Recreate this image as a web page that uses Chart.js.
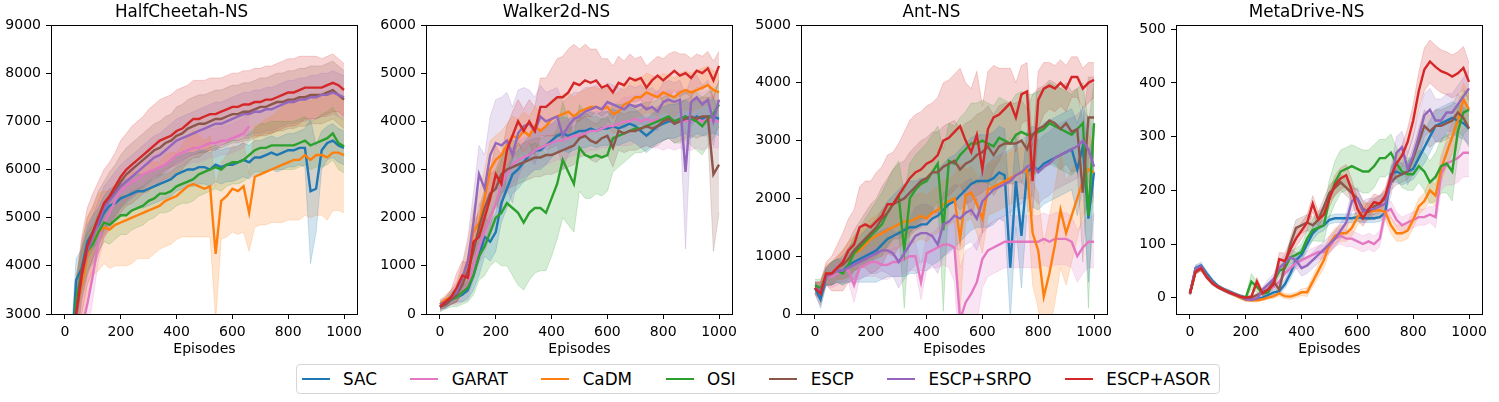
<!DOCTYPE html>
<html>
<head>
<meta charset="utf-8">
<script src="https://cdn.jsdelivr.net/npm/chart.js@4.4.0/dist/chart.umd.min.js"></script>
<style>
  body { margin: 0; background: #fff; width: 1499px; height: 402px; overflow: hidden; position: relative; font-family: "DejaVu Sans", sans-serif; }
  canvas { position: absolute; top: 0; }
  #legend { position: absolute; left: 296px; top: 364px; width: 924px; height: 30px; box-sizing: border-box;
            border: 1px solid #d6d6d6; border-radius: 4px; display: flex; align-items: center; padding-left: 4.7px;
            font-size: 16.8px; color: #000; white-space: nowrap; }
  .item { display: flex; align-items: center; margin-right: 33.5px; }
  .item:last-child { margin-right: 0; }
  .swatch { width: 28px; height: 2.2px; margin-right: 13.4px; }
</style>
</head>
<body>
<canvas id="chart0" width="367" height="362" style="left:0px"></canvas>
<canvas id="chart1" width="367" height="362" style="left:375px"></canvas>
<canvas id="chart2" width="367" height="362" style="left:750px"></canvas>
<canvas id="chart3" width="367" height="362" style="left:1125px"></canvas>
<div id="legend"></div>
<script>
const episodes = [0,20,40,60,80,100,120,140,160,180,200,220,240,260,280,300,320,340,360,380,400,420,440,460,480,500,520,540,560,580,600,620,640,660,680,700,720,740,760,780,800,820,840,860,880,900,920,940,960,980,1000];

const seriesNames = ["SAC", "GARAT", "CaDM", "OSI", "ESCP", "ESCP+SRPO", "ESCP+ASOR"];
const seriesColors = ["#1f77b4", "#e377c2", "#ff7f0e", "#2ca02c", "#8c564b", "#9467bd", "#d62728"];

// HalfCheetah-NS
const hcSac = [-200,1800,3700,3950,4500,4700,4850,5100,5250,5300,5400,5450,5500,5550,5550,5600,5650,5700,5750,5800,5900,5950,6000,6000,6050,6050,6000,6100,6050,6100,6100,6150,6200,6150,6250,6250,6300,6350,6300,6350,6400,6400,6450,6450,5550,5600,6400,6550,6600,6500,6450];
const hcSacStd = [300,500,450,400,350,350,350,350,350,350,350,350,350,350,350,350,350,350,350,350,350,350,350,350,350,350,350,350,350,350,350,350,350,350,350,350,350,350,350,350,350,350,350,400,1500,900,400,350,350,350,350];
const hcGarat = [-500,500,1800,2700,3200,3800,4500,4900,5100,5350,5550,5650,5750,5800,5900,5950,6000,6050,6100,6200,6300,6350,6400,6450,6450,6500,6550,6550,6600,6600,6650,6700,6750,6900,null,null,null,null,null,null,null,null,null,null,null,null,null,null,null,null,null];
const hcGaratStd = [300,400,500,600,600,500,400,350,300,300,300,300,300,300,300,300,300,300,300,300,300,300,300,300,300,300,300,300,300,300,300,300,300,300,null,null,null,null,null,null,null,null,null,null,null,null,null,null,null,null,null];
const hcCadm = [-300,1500,3000,3600,4200,4500,4700,4800,4750,4850,4900,4950,5000,5050,5100,5150,5200,5250,5350,5400,5450,5550,5650,5700,5650,5600,5650,4250,5350,5450,5600,5550,5650,5100,5850,5900,5950,6000,6050,6100,6150,6200,6200,6300,6200,6300,6300,6250,6350,6350,6300];
const hcCadmStd = [300,600,700,800,800,700,800,750,800,850,900,950,950,900,950,1000,950,900,950,950,900,950,1050,1100,1050,1000,1050,1400,800,850,900,900,950,800,1050,1050,1100,1100,1150,1200,1200,1250,1250,1250,1200,1250,1250,1300,1200,1200,1200];
const hcOsi = [-300,1500,3300,3900,4300,4450,4700,4900,4850,4950,5050,5050,5150,5200,5250,5350,5400,5500,5500,5550,5650,5700,5750,5800,5900,5950,6000,6050,6000,6100,6150,6150,6200,6300,6400,6450,6450,6500,6500,6500,6500,6500,6550,6600,6500,6550,6600,6650,6750,6550,6480];
const hcOsiStd = [300,500,500,450,400,400,400,400,400,400,400,400,400,400,400,400,400,400,400,400,400,400,450,450,450,450,450,450,450,450,450,450,450,450,450,500,500,500,500,500,500,500,500,500,500,500,550,550,550,550,550];
const hcEscp = [-300,1200,3000,3900,4400,4700,5000,5200,5400,5550,5750,5900,6000,6100,6200,6300,6400,6450,6550,6600,6700,6750,6850,6900,6950,6950,7000,7050,7050,7100,7150,7150,7200,7200,7250,7300,7300,7350,7400,7400,7450,7450,7500,7500,7550,7550,7550,7600,7650,7550,7450];
const hcEscpStd = [300,500,600,600,600,550,550,550,550,550,550,550,550,550,550,550,550,550,550,550,600,600,600,600,600,600,600,600,600,600,600,600,600,600,600,600,600,600,600,600,600,600,600,600,600,600,600,600,600,600,600];
const hcSrpo = [-300,1200,2900,3800,4300,4600,4900,5200,5350,5500,5650,5750,5850,5950,6050,6150,6250,6300,6400,6500,6600,6650,6700,6750,6800,6850,6900,6950,6950,7000,7050,7100,7150,7150,7200,7200,7250,7250,7300,7350,7400,7400,7450,7450,7500,7500,7550,7550,7600,7550,7500];
const hcSrpoStd = [300,500,500,500,450,450,450,450,450,450,450,450,450,450,450,450,450,450,450,450,450,450,450,450,450,450,450,450,450,450,450,450,450,450,450,450,450,450,450,450,450,450,450,450,450,450,450,450,450,450,450];
const hcAsor = [-300,1200,3000,3800,4400,4700,5000,5300,5450,5650,5850,6000,6100,6200,6300,6400,6500,6600,6650,6700,6800,6850,6950,7050,7050,7100,7150,7150,7200,7250,7300,7300,7350,7350,7400,7400,7450,7450,7500,7550,7600,7600,7650,7700,7700,7700,7700,7750,7800,7750,7650];
const hcAsorStd = [300,500,700,800,800,800,750,700,700,700,750,750,800,800,800,850,850,850,850,850,850,850,800,800,800,750,750,750,700,700,700,700,700,700,700,700,700,700,700,700,700,700,700,650,650,650,600,600,600,550,550];

// Walker2d-NS
const wkSac = [150,200,300,350,400,500,800,1200,1600,1500,1700,2300,2600,2900,3000,3150,3300,3400,3400,3500,3600,3700,3750,3700,3750,3800,3800,3850,3800,3850,3850,3900,3850,3900,3950,3900,3800,3700,3800,3900,3950,4000,4000,4050,4100,4000,4100,4050,4100,4100,4050];
const wkSacStd = [50,80,100,100,150,200,300,400,400,400,400,400,400,400,400,400,400,400,400,400,350,350,350,350,350,350,350,350,350,350,350,350,350,350,350,350,350,350,350,350,350,350,350,350,350,350,350,350,350,350,350];
const wkGarat = [150,200,300,350,450,600,1000,1400,1700,2000,2300,2700,2900,3100,3200,3250,3300,3400,3450,3500,3550,3600,3600,3650,3700,3700,3750,3800,3800,3850,3900,3900,3950,4000,4000,4050,4000,4050,4000,4050,4000,4050,4000,4050,4000,4000,4050,4000,4050,4000,4000];
const wkGaratStd = [50,80,100,150,200,250,300,350,400,400,400,400,400,400,400,400,400,400,400,400,400,400,400,400,400,400,400,400,400,400,450,450,450,500,500,500,550,550,550,600,600,600,600,600,600,600,600,600,600,550,550];
const wkCadm = [200,300,350,450,700,1100,1700,1900,2400,3000,3200,3300,3500,3700,3650,3800,3700,3900,3800,3900,4050,4100,4150,4200,4100,4200,4250,4300,4300,4250,4300,4150,4200,4350,4400,4500,4500,4600,4550,4500,4600,4550,4500,4600,4650,4600,4650,4700,4750,4650,4600];
const wkCadmStd = [80,100,150,200,300,400,500,600,600,600,500,500,450,400,400,400,400,400,400,400,400,400,400,400,400,400,400,400,400,400,400,400,400,400,400,400,400,400,400,400,400,400,400,400,400,400,400,400,400,400,400];
const wkOsi = [150,200,300,350,450,550,800,1200,1400,1700,2000,2100,2300,2200,2100,1900,2100,2200,2200,2100,2400,2700,3200,2950,2700,3450,3300,3250,3300,3250,3300,3650,3700,3750,3800,3850,3850,3900,3950,4000,4050,4100,4000,4050,4100,4050,4000,3900,4050,4150,4350];
const wkOsiStd = [100,100,150,200,250,300,400,500,600,700,900,1100,1300,1400,1500,1400,1400,1350,1300,1200,1200,1150,1200,1100,1000,900,900,850,800,800,750,700,650,600,550,500,500,500,450,450,450,450,450,500,500,550,600,600,550,500,450];
const wkEscp = [150,200,300,400,600,900,1300,1800,2200,2500,2600,2900,3000,3050,3100,3150,3200,3250,3250,3300,3300,3350,3400,3450,3500,3650,3700,3600,3550,3650,3700,3450,3800,3750,3800,3800,3850,3900,3850,3900,4000,4050,3950,4000,4050,4100,4050,4100,4100,2900,3100];
const wkEscpStd = [50,80,100,150,200,300,400,400,400,400,400,400,400,400,400,400,400,400,400,400,400,400,400,400,400,400,400,400,400,400,400,400,400,400,400,400,400,400,400,400,400,400,400,400,400,400,400,400,400,1600,1000];
const wkSrpo = [200,250,350,450,750,1100,1900,2900,2600,3300,3550,3500,3600,3300,3750,3900,3950,3800,4100,4000,4050,4100,3700,3900,4050,4100,4200,4250,4300,4250,4400,4350,4300,4250,4350,4300,4350,4250,4300,4200,4400,4450,4400,4450,2950,4400,4500,4350,4450,4000,4450];
const wkSrpoStd = [100,100,150,200,300,500,600,600,700,800,900,1000,1000,1000,900,800,700,700,650,600,600,600,700,600,550,500,500,450,450,400,400,400,400,400,400,400,400,400,400,400,400,400,400,400,1600,500,450,400,400,500,400];
const wkAsor = [150,250,350,550,800,750,1500,1600,2000,2400,2900,2700,3400,3700,4000,3800,4000,3800,4300,4300,4400,4500,4500,4600,4800,4750,4850,4800,4850,4700,4750,4600,4800,4750,4900,4850,4900,4700,4850,4950,4850,4950,5050,4950,5000,4900,5050,5000,5100,4850,5150];
const wkAsorStd = [100,100,150,300,300,300,400,500,500,600,600,600,500,500,450,450,450,500,600,600,700,800,850,900,800,750,750,700,650,600,550,550,550,500,500,450,450,450,400,400,450,450,400,450,400,400,350,350,350,400,300];

// Ant-NS
const antSac = [450,250,650,700,750,750,850,900,950,1000,1050,1100,1200,1300,1350,1400,1450,1500,1500,1550,1550,1650,1700,1800,1900,1950,2050,2150,2250,2300,2300,2300,2350,2450,2400,800,2300,1350,2450,2550,2500,2600,2650,2700,2750,2800,2850,2500,2900,1650,2450];
const antSacStd = [100,150,150,200,200,250,300,350,400,450,500,550,600,650,700,750,800,800,800,800,800,800,800,800,800,800,800,800,800,800,800,800,800,800,800,900,800,900,700,700,700,700,700,700,700,700,700,800,700,1100,700];
const antGarat = [450,400,650,650,700,750,750,500,800,850,900,900,850,850,900,900,950,1000,1000,550,1050,1100,1150,1200,1200,1150,-100,200,350,550,950,1100,1150,1200,1250,1250,1250,1250,1250,1250,1250,1300,1250,1300,1300,1300,1250,1000,1150,1250,1250];
const antGaratStd = [100,150,150,200,200,200,200,300,200,200,250,250,250,250,250,250,250,250,250,300,300,300,350,350,400,600,900,900,800,700,500,450,450,450,450,450,450,450,450,450,450,450,450,450,450,450,450,450,450,450,450];
const antCadm = [450,400,700,700,800,850,950,1050,1100,1200,1300,1350,1400,1450,1500,1550,1600,1600,1650,1700,1650,1750,1800,1900,1950,2000,1300,2050,2100,1900,1650,2150,2200,2250,2300,2350,2400,2450,2500,1400,1100,300,700,1200,1800,1400,1700,2000,2300,2500,2450];
const antCadmStd = [100,150,150,200,200,250,300,300,300,350,350,350,400,400,400,400,400,400,400,400,400,400,400,400,400,400,1300,450,450,500,600,450,450,450,450,450,450,450,500,900,1000,900,1000,1000,1000,900,800,700,600,600,500];
const antOsi = [500,450,650,700,750,700,850,1050,1150,1250,1350,1450,1550,1750,1900,2050,1100,2000,2150,2250,2300,2450,2600,1450,2650,2600,2750,2850,2950,2950,3000,2950,2900,3050,3000,2950,3100,3150,3100,3100,3150,3200,3300,3250,3200,3150,3100,3200,3300,1700,3300];
const antOsiStd = [100,150,150,200,200,200,250,300,350,400,450,500,550,550,600,600,1000,600,600,600,650,650,650,1400,650,650,650,650,700,700,700,700,700,700,700,700,700,700,700,700,700,700,700,700,700,700,700,700,700,1600,700];
const antEscp = [450,400,650,700,800,850,950,1100,1200,1300,1400,1500,1650,1750,1900,1950,2000,2100,2200,2300,2350,2450,2450,2550,2600,2650,2500,2600,2650,2750,2800,2900,2750,2900,2950,2950,2950,3000,2850,3100,3200,3250,3350,3300,3200,3300,3150,3200,2100,3400,3400];
const antEscpStd = [100,150,150,200,200,250,300,350,400,450,500,500,550,600,600,650,650,700,700,700,700,700,700,700,700,700,700,700,700,700,700,700,700,700,700,700,700,700,700,700,700,700,700,700,700,700,700,700,1200,700,700];
const antSrpo = [450,400,650,700,750,750,800,850,900,950,1000,1050,1100,1100,1050,900,1050,1200,1350,1400,1400,1350,1200,1550,1600,1700,1650,1750,1800,1650,1950,2050,2150,2200,2250,2300,2400,2450,2550,2600,2450,2550,2600,2700,2750,2800,2850,2900,3000,2850,2550];
const antSrpoStd = [100,150,150,200,200,200,250,250,300,300,300,350,350,400,400,450,450,450,500,500,500,500,500,550,550,550,550,550,550,550,550,550,550,550,550,550,550,550,550,550,550,550,550,550,550,550,550,550,550,550,550];
const antAsor = [450,350,700,700,800,900,1100,1200,1500,1550,1500,1600,1700,1900,1900,2050,2200,2350,2450,2500,2600,2650,2750,3000,3050,3150,3250,3000,2800,3100,2500,3200,3400,3450,3550,3650,3400,3800,3850,2300,3700,3900,3950,3900,4000,3900,4100,4100,3900,4000,4050];
const antAsorStd = [100,200,200,300,400,500,550,600,700,750,800,850,850,850,900,900,950,1000,1000,1000,1000,1000,1000,1000,1000,1000,1000,1000,1100,1100,1100,1000,900,800,700,600,600,500,500,600,500,450,400,400,400,400,350,350,350,350,300];

// MetaDrive-NS
const mdSac = [8,55,60,45,32,22,16,12,7,3,0,-2,-2,0,5,10,12,25,45,70,80,100,120,130,135,145,148,148,148,148,150,148,148,148,150,158,230,235,230,235,240,260,280,300,320,325,330,335,330,325,315];
const mdSacStd = [3,6,6,5,4,3,3,3,3,3,3,3,3,3,4,5,6,8,10,12,12,12,12,10,10,8,8,8,8,8,8,8,8,8,8,10,15,20,20,20,20,25,30,30,30,30,30,30,30,30,30];
const mdGarat = [8,50,55,40,28,20,15,10,6,2,-3,-2,0,10,15,20,30,45,55,65,70,75,80,85,85,95,110,115,110,110,105,100,105,100,110,160,165,145,135,140,145,150,150,155,150,230,250,255,260,270,270];
const mdGaratStd = [3,5,5,4,4,3,3,3,3,3,3,3,3,4,5,6,8,10,12,12,12,12,12,12,12,12,15,15,15,15,15,15,15,15,15,15,15,15,15,15,15,15,15,15,20,30,40,45,45,45,45];
const mdCadm = [8,50,55,40,28,20,15,10,5,0,-4,-5,-5,-3,0,3,8,3,2,5,10,10,30,50,70,100,115,120,120,130,150,160,160,162,163,160,135,120,120,125,145,170,180,200,190,240,270,300,330,370,350];
const mdCadmStd = [3,5,5,4,4,3,3,3,3,3,3,3,3,3,3,4,5,5,5,5,6,8,10,12,15,15,15,15,15,15,15,15,15,15,15,15,15,15,15,15,15,15,15,20,20,25,25,30,30,30,30];
const mdOsi = [8,50,55,40,28,20,15,10,6,2,0,30,20,8,10,30,50,55,75,80,85,110,126,130,135,185,215,235,240,245,240,235,235,245,260,260,270,250,235,230,230,245,235,215,225,245,250,235,310,345,350];
const mdOsiStd = [3,5,5,4,4,3,3,3,3,3,3,15,10,5,6,8,10,12,12,12,15,15,20,25,30,35,40,40,40,40,40,40,40,40,35,35,35,30,30,30,30,30,35,40,45,50,55,55,45,40,35];
const mdEscp = [8,50,55,40,28,20,15,10,6,2,-2,0,5,10,15,30,15,60,100,130,135,140,135,145,170,195,205,215,205,195,185,165,160,170,175,185,215,225,230,235,260,290,320,310,320,320,325,330,345,335,315];
const mdEscpStd = [3,5,5,4,4,3,3,3,3,3,3,3,4,5,6,8,8,10,12,15,15,15,15,15,15,15,15,15,15,15,15,15,15,15,15,15,15,15,15,15,20,25,30,30,30,30,30,30,35,35,35];
const mdSrpo = [8,55,58,40,28,20,15,10,6,2,-3,-4,-2,15,25,35,55,65,75,70,55,60,70,80,90,100,110,125,140,180,185,160,165,165,170,175,215,270,280,240,265,300,340,350,330,330,345,345,360,375,390];
const mdSrpoStd = [3,5,5,4,4,3,3,3,3,3,3,3,3,5,8,10,12,15,15,15,15,15,15,15,15,15,15,15,15,20,20,20,20,20,20,20,25,30,30,30,35,40,40,40,40,40,35,35,35,35,35];
const mdAsor = [8,48,55,38,27,20,15,10,6,2,0,2,30,8,15,25,72,68,90,110,125,140,175,145,155,185,210,222,228,200,165,148,165,178,175,190,225,250,265,290,330,385,425,440,430,422,418,412,418,428,402];
const mdAsorStd = [3,5,5,4,4,3,3,3,3,3,3,3,8,5,6,8,12,15,15,15,15,15,15,15,15,15,18,20,20,20,20,15,15,15,15,15,15,20,20,25,30,35,40,40,40,40,40,40,40,40,35];

const panels = [
  { canvas: "chart0", title: "HalfCheetah-NS", yMin: 3000, yMax: 9000, yStep: 1000,
    means: [hcSac, hcGarat, hcCadm, hcOsi, hcEscp, hcSrpo, hcAsor],
    spreads: [hcSacStd, hcGaratStd, hcCadmStd, hcOsiStd, hcEscpStd, hcSrpoStd, hcAsorStd] },
  { canvas: "chart1", title: "Walker2d-NS", yMin: 0, yMax: 6000, yStep: 1000,
    means: [wkSac, wkGarat, wkCadm, wkOsi, wkEscp, wkSrpo, wkAsor],
    spreads: [wkSacStd, wkGaratStd, wkCadmStd, wkOsiStd, wkEscpStd, wkSrpoStd, wkAsorStd] },
  { canvas: "chart2", title: "Ant-NS", yMin: 0, yMax: 5000, yStep: 1000,
    means: [antSac, antGarat, antCadm, antOsi, antEscp, antSrpo, antAsor],
    spreads: [antSacStd, antGaratStd, antCadmStd, antOsiStd, antEscpStd, antSrpoStd, antAsorStd] },
  { canvas: "chart3", title: "MetaDrive-NS", yMin: -30.4, yMax: 508, yStep: 100,
    means: [mdSac, mdGarat, mdCadm, mdOsi, mdEscp, mdSrpo, mdAsor],
    spreads: [mdSacStd, mdGaratStd, mdCadmStd, mdOsiStd, mdEscpStd, mdSrpoStd, mdAsorStd] }
];

const FONT = "DejaVu Sans";

function rgba(hex, a) {
  const n = parseInt(hex.slice(1), 16);
  return "rgba(" + (n >> 16) + "," + ((n >> 8) & 255) + "," + (n & 255) + "," + a + ")";
}

function points(vals) {
  return episodes.map((e, i) => ({ x: e, y: vals[i] }));
}

function buildDatasets(means, spreads) {
  let sets = [];
  means.forEach((m, s) => {
    const sd = spreads[s];
    const c = seriesColors[s];
    const upper = m.map((v, i) => v === null ? null : v + sd[i]);
    const lower = m.map((v, i) => v === null ? null : v - sd[i]);
    sets.push({ data: points(upper), borderColor: rgba(c, 0.25), borderWidth: 0.8, fill: false, order: 20 });
    sets.push({ data: points(lower), borderColor: rgba(c, 0.25), borderWidth: 0.8, backgroundColor: rgba(c, 0.2), fill: "-1", order: 20 });
  });
  means.forEach((m, s) => {
    sets.push({ data: points(m), borderColor: seriesColors[s], borderWidth: 2.4, fill: false, order: 10 - s });
  });
  return sets;
}

// full box around the plot area, like matplotlib spines
const framePlugin = {
  id: "frame",
  afterDraw(chart) {
    const a = chart.chartArea;
    const ctx = chart.ctx;
    ctx.save();
    ctx.strokeStyle = "#000";
    ctx.lineWidth = 1;
    ctx.strokeRect(Math.round(a.left) + 0.5, Math.round(a.top) + 0.5, Math.round(a.right - a.left) - 1, Math.round(a.bottom - a.top));
    ctx.restore();
  }
};

const plainTick = (v) => String(v);

panels.forEach((p) => {
  new Chart(document.getElementById(p.canvas), {
    type: "line",
    data: { datasets: buildDatasets(p.means, p.spreads) },
    plugins: [framePlugin],
    options: {
      responsive: false,
      animation: false,
      events: [],
      layout: { padding: { left: 0, right: 4, top: 0, bottom: 0 } },
      elements: { point: { radius: 0 }, line: { tension: 0 } },
      plugins: {
        legend: { display: false },
        tooltip: { enabled: false },
        filler: { drawTime: "beforeDatasetsDraw" },
        title: { display: true, text: p.title, color: "#000",
                 font: { family: FONT, size: 16.8, weight: "normal" },
                 padding: { top: 2.3, bottom: 2.54 } }
      },
      scales: {
        x: {
          type: "linear", min: -50, max: 1050,
          ticks: { stepSize: 200, includeBounds: false, color: "#000", font: { family: FONT, size: 14 }, padding: 5, maxRotation: 0, callback: plainTick },
          grid: { drawOnChartArea: false, drawTicks: true, tickLength: 5, tickColor: "#000", tickWidth: 1 },
          border: { display: false },
          title: { display: true, text: "Episodes", color: "#000", font: { family: FONT, size: 14 }, padding: { top: 0, bottom: 4 } },
          afterFit: (s) => { s.height = 48; }
        },
        y: {
          min: p.yMin, max: p.yMax,
          ticks: { stepSize: p.yStep, includeBounds: false, color: "#000", font: { family: FONT, size: 14 }, padding: 5, callback: plainTick },
          grid: { drawOnChartArea: false, drawTicks: true, tickLength: 5, tickColor: "#000", tickWidth: 1 },
          border: { display: false },
          afterFit: (s) => { s.width = 51; }
        }
      }
    }
  });
});

// shared legend under the four panels
const legend = document.getElementById("legend");
seriesNames.forEach((name, i) => {
  const item = document.createElement("div");
  item.className = "item";
  const sw = document.createElement("span");
  sw.className = "swatch";
  sw.style.background = seriesColors[i];
  const label = document.createElement("span");
  label.textContent = name;
  item.appendChild(sw);
  item.appendChild(label);
  legend.appendChild(item);
});
</script>
</body>
</html>
